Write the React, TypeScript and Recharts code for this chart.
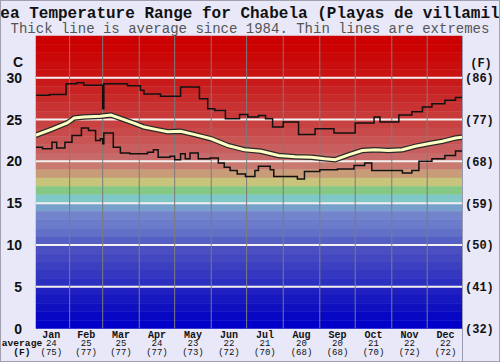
import { LineChart, Line, XAxis, YAxis, ReferenceArea, ReferenceLine } from 'recharts'

const MONO = '"Liberation Mono", "DejaVu Sans Mono", monospace'
const SANS = '"Liberation Sans", Arial, sans-serif'

const CHART_W = 500
const RIGHT_AXIS_W = 38

// month labels along the bottom
const months = ['Jan', 'Feb', 'Mar', 'Apr', 'May', 'Jun', 'Jul', 'Aug', 'Sep', 'Oct', 'Nov', 'Dec']
const monthMidDays = [15.5, 45, 74.5, 105, 135.5, 166, 196.5, 227.5, 258, 288.5, 319, 349.5]
const monthStartDays = [31, 59, 90, 120, 151, 181, 212, 243, 273, 304, 334]
const monthAvgC = [24, 25, 25, 24, 23, 22, 21, 20, 20, 21, 22, 22]
const monthAvgF = [75, 77, 77, 77, 73, 72, 70, 68, 68, 70, 72, 72]

// y axis
const celsiusTicks = [0, 5, 10, 15, 20, 25, 30]
const fahrenheitLabels = ['(32)', '(41)', '(50)', '(59)', '(68)', '(77)', '(86)']
const gridTemps = [5, 10, 15, 20, 25, 30]

// background colour bands, 1 degree each, from 35C down to 0C
const bandColors = [
  '#cc0000', '#cc0202', '#cb0808', '#ca0d0d', '#c91212',
  '#c81a1a', '#c82222', '#c82a2a', '#c83232', '#c83a3a',
  '#c84242', '#c84a4a', '#c85454', '#c85e5e', '#c86a6a',
  '#c87a70', '#c89c78', '#c8c47c', '#84c884', '#80c8c8',
  '#78a0cc', '#7484cc', '#6c7ccc', '#6270c8', '#5660c4',
  '#4a50c0', '#4448c0', '#3c40c0', '#3438c0', '#2c30c0',
  '#2020c0', '#1818c0', '#1010c0', '#0808c4', '#0000c8',
]

// average since 1984 (day of year, deg C)
const avgDays = [2, 15, 29, 35, 43, 57, 66, 74, 86, 94, 105, 114, 125, 137, 151, 165, 179, 193, 208, 222, 236, 247, 256, 268, 279, 290, 301, 313, 324, 335, 347, 358, 364]
const avgTemps = [23.1, 23.8, 24.6, 25.2, 25.3, 25.4, 25.55, 25.15, 24.55, 24.1, 23.8, 23.55, 23.6, 23.2, 22.7, 21.9, 21.4, 21.2, 20.7, 20.55, 20.5, 20.3, 20.2, 20.8, 21.3, 21.4, 21.3, 21.4, 21.8, 22.1, 22.4, 22.8, 22.9]

// highest on record
const maxDays = [2, 14, 28, 37, 43, 59, 60, 80, 91, 94, 108, 125, 141, 148, 154, 163, 175, 182, 191, 197, 203, 212, 225, 239, 255, 273, 289, 294, 310, 321, 330, 338, 349, 358, 364]
const maxTemps = [27.9, 28.0, 29.3, 29.4, 29.1, 26.3, 29.3, 29.05, 28.5, 28.05, 27.8, 28.9, 27.5, 26.3, 26.1, 25.1, 25.6, 25.3, 25.5, 25.1, 24.1, 24.7, 23.2, 23.9, 23.4, 24.6, 25.3, 24.7, 25.55, 25.95, 26.5, 26.9, 27.3, 27.65, 27.65]

// lowest on record
const minDays = [2, 8, 16, 20, 27, 33, 41, 47, 53, 57, 59, 60, 68, 74, 82, 97, 102, 106, 116, 120, 125, 129, 133, 140, 150, 157, 162, 167, 173, 180, 188, 191, 201, 204, 224, 230, 243, 258, 272, 281, 287, 313, 321, 327, 338, 349, 358, 364]
const minTemps = [21.7, 21.5, 22.3, 21.6, 22.3, 23.1, 24.0, 23.7, 22.5, 22.7, 22.1, 23.4, 21.7, 21.0, 20.9, 21.1, 21.4, 20.5, 20.6, 20.2, 20.9, 20.3, 21.0, 20.3, 20.4, 19.8, 19.3, 18.9, 18.5, 18.2, 18.9, 19.4, 19.0, 18.2, 17.9, 18.8, 19.0, 19.1, 19.5, 19.8, 18.9, 18.6, 18.9, 20.0, 20.3, 20.7, 21.25, 21.25]

const toPoints = (days: number[], temps: number[]) => days.map((day, i) => ({ day, temp: temps[i] }))
const avgData = toPoints(avgDays, avgTemps)
const maxData = toPoints(maxDays, maxTemps)
const minData = toPoints(minDays, minTemps)

function MonthTick(props: any) {
  const { x, y, index } = props
  return (
    <g fill="#111">
      <text x={x} y={y + 9} textAnchor="middle" fontFamily={MONO} fontWeight="bold" fontSize={10}>
        {months[index]}
      </text>
      <text x={x} y={y + 17} textAnchor="middle" fontFamily={MONO} fontSize={9}>
        {monthAvgC[index]}
      </text>
      <text x={x} y={y + 26} textAnchor="middle" fontFamily={MONO} fontSize={9}>
        ({monthAvgF[index]})
      </text>
    </g>
  )
}

// left label in C, matching label in F on the right side of the plot
function TempTick(props: any) {
  const { x, y, index, payload } = props
  const rightX = CHART_W - RIGHT_AXIS_W + 3
  return (
    <g fill="#111">
      <text x={x} y={y} dy={5} textAnchor="end" fontFamily={SANS} fontWeight="bold" fontSize={14}>
        {payload.value}
      </text>
      <text x={rightX} y={y} dy={4.5} textAnchor="start" fontFamily={MONO} fontWeight="bold" fontSize={12}>
        {fahrenheitLabels[index]}
      </text>
    </g>
  )
}

export default function App() {
  return (
    <div style={{ position: 'relative', width: 500, height: 362, background: '#e8e8f8', overflow: 'hidden' }}>
      <style>{'body{margin:0}'}</style>
      <LineChart width={CHART_W} height={362} margin={{ top: 36, right: RIGHT_AXIS_W, bottom: 0, left: 0 }}>
        <XAxis
          dataKey="day"
          type="number"
          domain={[2.5, 363.5]}
          allowDataOverflow
          ticks={monthMidDays}
          interval={0}
          height={33.5}
          axisLine={false}
          tickLine={false}
          tickSize={0}
          tickMargin={0}
          tick={<MonthTick />}
        />
        <YAxis
          yAxisId="c"
          type="number"
          domain={[0, 35]}
          ticks={celsiusTicks}
          interval={0}
          width={36}
          axisLine={false}
          tickLine={false}
          tickSize={0}
          tickMargin={14}
          tick={<TempTick />}
        />
        {bandColors.map((c, i) => (
          <ReferenceArea
            key={'b' + i}
            yAxisId="c"
            y1={34 - i}
            y2={35 - i}
            fill={c}
            fillOpacity={1}
            stroke={c}
            strokeWidth={0.5}
          />
        ))}
        {gridTemps.map((t) => (
          <ReferenceLine key={'g' + t} yAxisId="c" y={t} stroke="#f4f0f0" strokeWidth={2} />
        ))}
        {monthStartDays.map((d) => (
          <ReferenceLine key={'m' + d} yAxisId="c" x={d} stroke="#7c7c7c" strokeWidth={1} />
        ))}
        <Line yAxisId="c" data={maxData} dataKey="temp" type="stepAfter" stroke="#111" strokeWidth={1.5} dot={false} isAnimationActive={false} />
        <Line yAxisId="c" data={minData} dataKey="temp" type="stepAfter" stroke="#111" strokeWidth={1.5} dot={false} isAnimationActive={false} />
        <Line yAxisId="c" data={avgData} dataKey="temp" type="linear" stroke="#2a2a2a" strokeWidth={5.5} dot={false} isAnimationActive={false} />
        <Line yAxisId="c" data={avgData} dataKey="temp" type="linear" stroke="#ffffc4" strokeWidth={3} dot={false} isAnimationActive={false} />
      </LineChart>
      <svg width={500} height={362} style={{ position: 'absolute', left: 0, top: 0, pointerEvents: 'none' }}>
        <text x={250} y={18} textAnchor="middle" fontFamily={MONO} fontWeight="bold" fontSize={16} fill="#111">
          Sea Temperature Range for Chabela (Playas de villamil)
        </text>
        <text x={250} y={33} textAnchor="middle" fontFamily={MONO} fontSize={14} fill="#555">
          Thick line is average since 1984. Thin lines are extremes
        </text>
        <text x={18} y={66.5} textAnchor="middle" fontFamily={SANS} fontWeight="bold" fontSize={14} fill="#111">C</text>
        <text x={481} y={66.5} textAnchor="middle" fontFamily={MONO} fontWeight="bold" fontSize={12} fill="#111">(F)</text>
        <text x={22} y={345.5} textAnchor="middle" fontFamily={MONO} fontWeight="bold" fontSize={9.6} fill="#111">average</text>
        <text x={22} y={354.5} textAnchor="middle" fontFamily={MONO} fontWeight="bold" fontSize={9.6} fill="#111">(F)</text>
        <line x1={462.5} y1={36} x2={462.5} y2={362} stroke="#9a9ab0" strokeWidth={1} />
        <rect x={0.5} y={0.5} width={499} height={361} fill="none" stroke="#a0a0b0" />
      </svg>
    </div>
  )
}
